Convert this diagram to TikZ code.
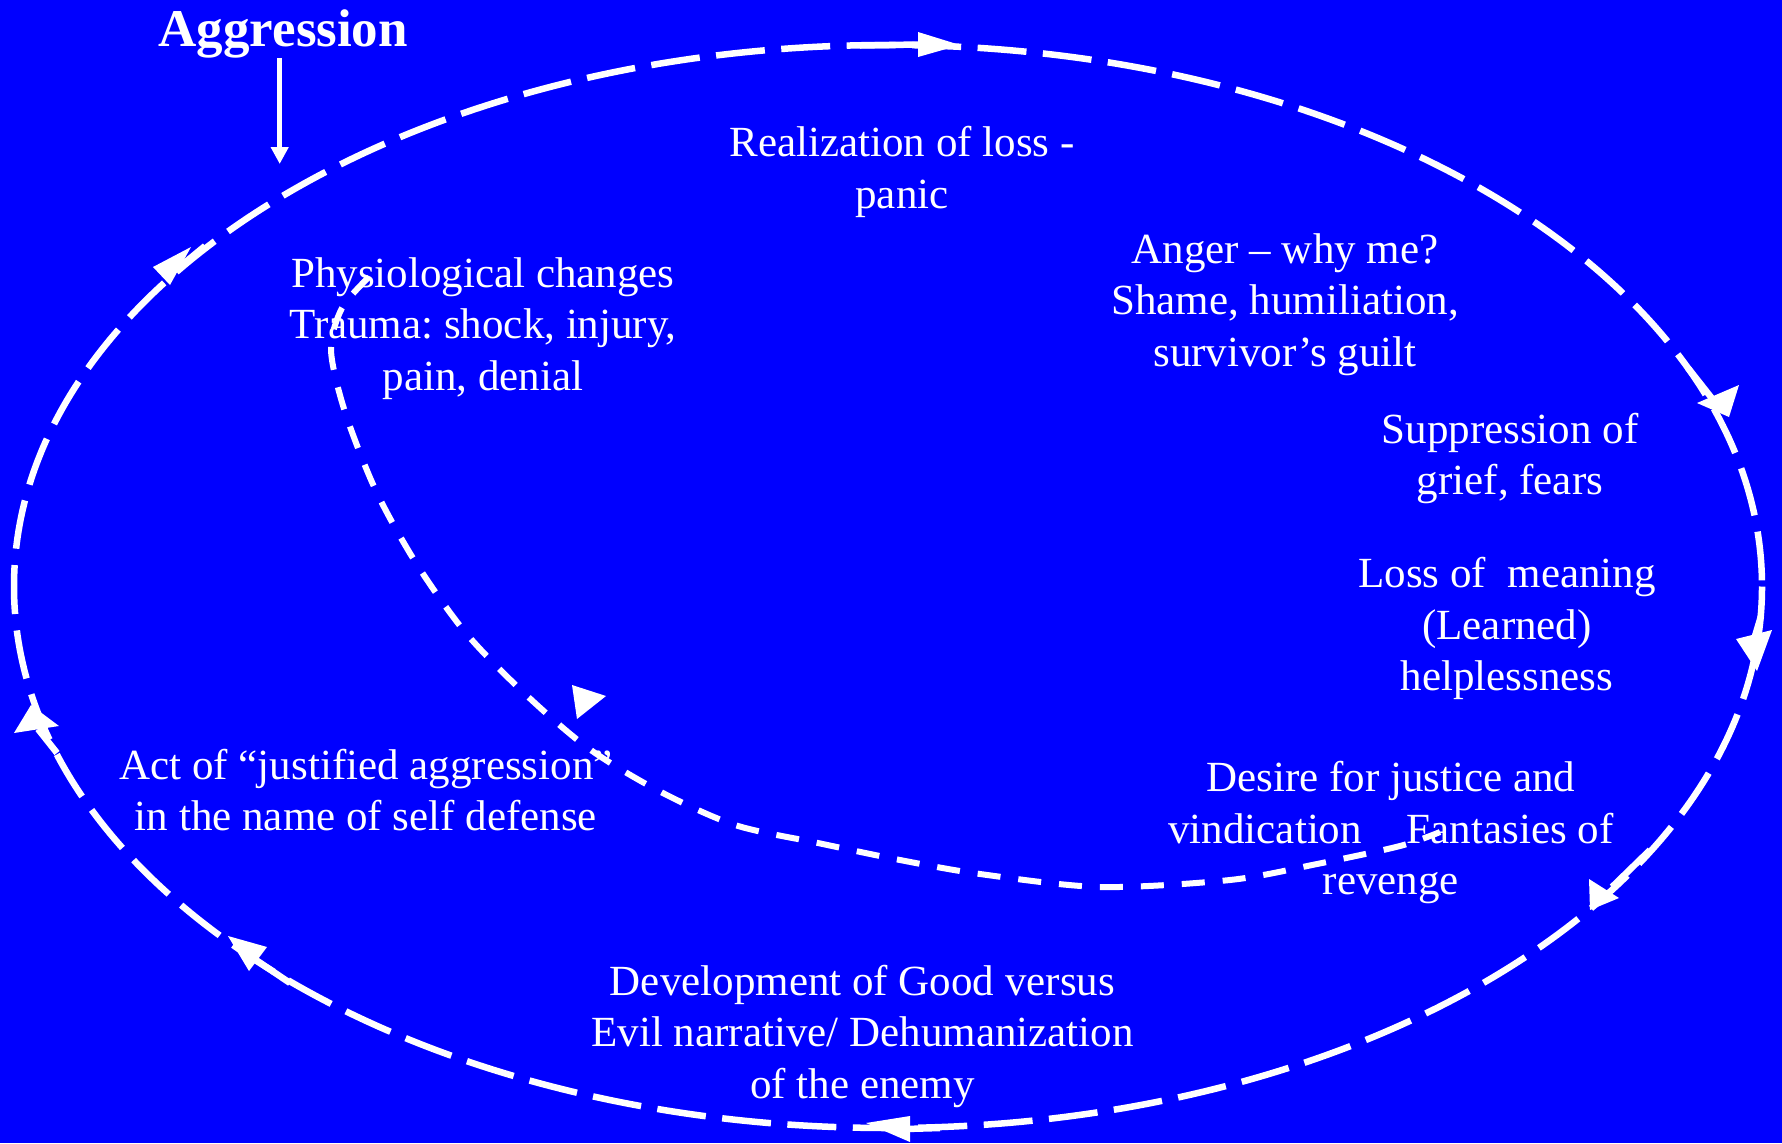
\documentclass[tikz,border=0pt]{standalone}
\usepackage{fontspec}
\setmainfont{Liberation Serif}
\usetikzlibrary{arrows.meta}
\definecolor{slideblue}{RGB}{0,0,255}
\frenchspacing

\tikzset{
  stage/.style={anchor=base, inner sep=0pt, text=white,
    font=\fontsize{43}{51.5}\selectfont},
  title/.style={anchor=base, inner sep=0pt, text=white,
    font=\fontsize{53}{60}\selectfont\bfseries},
  cycleline/.style={draw=white, line width=6.5pt, dash pattern=on 49pt off 16.5pt},
  stub/.style={draw=white, line width=6.5pt},
  spiralline/.style={draw=white, line width=6pt, dash pattern=on 23pt off 18pt},
  pointer/.style={draw=white, line width=5.5pt,
    -{Triangle[length=17pt, width=17pt]}},
  head/.style={fill=white},
}

\newcommand{\lines}[1]{\begin{tabular}[t]{@{}c@{}}#1\end{tabular}}

\begin{document}
\begin{tikzpicture}[x=1pt, y=-1pt]
  % canvas
  \fill[slideblue] (0,0) rectangle (1782,1143);
  \useasboundingbox (0,0) rectangle (1782,1143);

  % outer cycle
  \draw[cycleline] (888,586.5) ellipse [x radius=874, y radius=541.5];

  % solid lead-ins to the arrow heads
  \draw[stub] (860,45.5) -- (918,44.5);
  \draw[stub] (1688,368) -- (1714,401);
  \draw[stub] (1761,616) -- (1755,636);
  \draw[stub] (1650,850) -- (1612,887);
  \draw[stub] (940,1128) -- (905,1129);
  \draw[stub] (290,983) -- (256,960);
  \draw[stub] (57,753) -- (38,729);
  \draw[stub] (205,246) -- (182,265);

  % arrow heads on the outer cycle
  \fill[head] (918,32) -- (918,57) -- (960,45) -- cycle;
  \fill[head] (1697,403) -- (1739,385) -- (1729,417) -- cycle;
  \fill[head] (1736,639) -- (1772,630) -- (1757,671) -- cycle;
  \fill[head] (1589,879) -- (1619,898) -- (1590,910) -- cycle;
  \fill[head] (866,1123) -- (910,1116) -- (910,1142) -- cycle;
  \fill[head] (228,936) -- (267,947) -- (249,971) -- cycle;
  \fill[head] (31,705) -- (59,726) -- (14,733) -- cycle;
  \fill[head] (153,267) -- (191,247) -- (170,285) -- cycle;

  % inner spiral
  \draw[spiralline] plot[smooth, tension=0.5] coordinates {
    (369,277) (342,308) (331,350) (345,412) (376,491) (416,563)
    (465,632) (523,692) (588,748) (659,791) (735,825) (818,843)
    (900,860) (980,874) (1100,887) (1230,880) (1317,864) (1400,846)
    (1440,832)};
  \fill[head] (572,685) -- (606,696) -- (577,719) -- cycle;

  % entry point
  \node[title] (agg) at (283.3,46) {Aggression};
  \coordinate (entry) at (279.7,164);
  \draw[pointer] (entry |- agg.south) -- (entry);

  % stages
  \node[stage] (loss) at (902,156.7) {\lines{Realization of loss -\\panic}};
  \node[stage] (phys) at (483,287.3) {\lines{Physiological changes\\Trauma: shock, injury,\\pain, denial}};
  \node[stage] (anger) at (1285,263.3) {\lines{Anger – why me?\\Shame, humiliation,\\survivor’s guilt}};
  \node[stage] (supp) at (1510,443.3) {\lines{Suppression of\\grief, fears}};
  \node[stage] (mean) at (1507,587.7) {\lines{Loss of\ \ meaning\\(Learned)\\helplessness}};
  \node[stage] (just) at (1391,791.7) {\lines{Desire for justice and\\vindication\hspace{45pt}Fantasies of\\revenge}};
  \node[stage] (evil) at (862.5,995) {\lines{Development of Good versus\\Evil narrative/ Dehumanization\\of the enemy}};
  \node[stage] (act) at (366,779.3) {\lines{Act of “justified aggression”\\in the name of self defense}};
\end{tikzpicture}
\end{document}
